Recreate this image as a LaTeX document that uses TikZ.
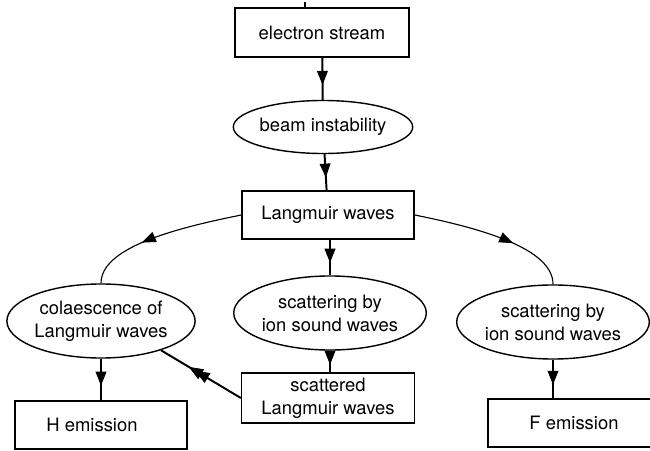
\documentclass[tikz,border=0pt]{standalone}
\usepackage{fontspec}
\setmainfont{TeX Gyre Heros}
\usetikzlibrary{shapes.geometric,arrows.meta,decorations.markings}

\newcommand\chartfont{\fontsize{13.1}{16.4}\selectfont}

\tikzset{
  box/.style={draw, line width=0.9pt, minimum width=4.3cm, minimum height=1.2cm,
    align=center, font=\chartfont},
  blob/.style={draw, ellipse, line width=1pt, inner sep=0pt, align=center,
    font=\chartfont},
  midarrow/.style={postaction={decorate}, decoration={markings,
    mark=at position #1 with {\arrow{Triangle[length=10pt,width=7.5pt]}}}},
  flow/.style={line width=1.4pt, midarrow=0.65},
  curveflow/.style={line width=0.8pt, midarrow=0.63},
}

\begin{document}
\begin{tikzpicture}[x=0.025cm,y=-0.025cm]
  \useasboundingbox (0,0) rectangle (650,451);
  \clip (0,0) rectangle (650,451);

  % main column
  \node[box, minimum width=4.35cm, minimum height=1.225cm] (stream) at (322,32.5) {electron stream};
  \node[blob, minimum width=4.325cm, minimum height=1.325cm] (beam) at (323,127) {beam instability};
  \node[box] (langmuir) at (328,215) {Langmuir waves};
  \node[blob, minimum width=4.625cm, minimum height=1.85cm] (scatmid) at (330,313) {scattering by\\ion sound waves};
  \node[box, minimum width=4.325cm, minimum height=1.25cm] (scattered) at (328,398) {scattered\\Langmuir waves};

  % left and right branches
  \node[blob, minimum width=4.675cm, minimum height=1.85cm] (coal) at (101,321) {colaescence of\\Langmuir waves};
  \node[box] (hem) at (101,425) {H emission\hspace{12.8pt}};
  \node[blob, minimum width=4.65cm, minimum height=1.85cm] (scatright) at (553,322) {scattering by\\ion sound waves};
  \node[box] (fem) at (574,423) {F emission};

  \coordinate (stub) at (305,2);
  \draw[line width=0.8pt] (stub) -- (stub |- stream.north);

  \draw[flow] (stream) -- (beam);
  \draw[flow] (beam) -- (langmuir);
  \draw[flow] (langmuir.south -| scatmid.north) -- (scatmid);
  \draw[flow] (scatmid) -- (scatmid.south |- scattered.north);
  \draw[flow] (coal) -- (hem);
  \draw[flow] (scatright) -- (scatright.south |- fem.north);
  \draw[flow, midarrow=0.57] (scattered.west) -- (coal.-26);

  \draw[curveflow] (langmuir.west) .. controls +(-70,14) and +(0,-35) .. (coal.north);
  \draw[curveflow] (langmuir.east) .. controls +(70,14) and +(0,-35) .. (scatright.north);
\end{tikzpicture}
\end{document}
